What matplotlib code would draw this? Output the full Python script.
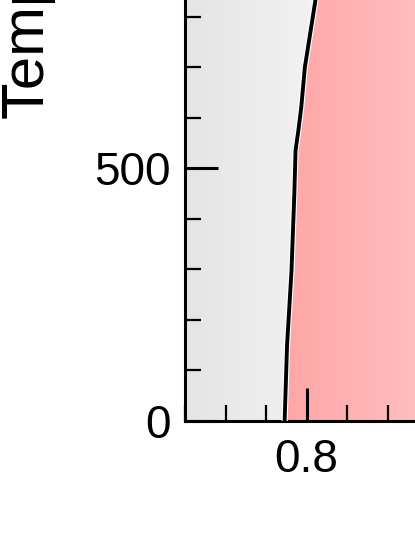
import numpy as np
import matplotlib
matplotlib.use('Agg')
import matplotlib.pyplot as plt
from matplotlib.ticker import MultipleLocator, FixedLocator
from matplotlib.path import Path
from matplotlib.patches import PathPatch
import matplotlib.patheffects as pe
from matplotlib.colors import LinearSegmentedColormap

plt.rcParams['font.family'] = ['Liberation Sans', 'DejaVu Sans']

# ── phase boundary
bound_x = [0.746, 0.752, 0.763, 0.770, 0.773, 0.780, 0.787, 0.796, 0.822, 0.840]
bound_T = [0, 150, 298, 450, 536, 575, 620, 700, 832, 900]

x_major = [0.8]
x_labels = ['0.8']
y_major = [0, 500]
y_labels = ['0', '500']
xlim = (0.5, 1.3)
ylim = (0, 900)

fig = plt.figure(figsize=(4.15, 5.37), dpi=100)
ax = fig.add_axes([185 / 415, 116 / 537, 324 / 415, 455 / 537])
ax.set_xlim(*xlim)
ax.set_ylim(*ylim)

# gray background gradient
gray = LinearSegmentedColormap.from_list('g', ['#e4e4e4', '#f1f1f1'])
grad = np.linspace(0, 1, 256).reshape(1, -1)
ax.imshow(grad, cmap=gray, extent=[xlim[0], 0.80, ylim[0], ylim[1]],
          aspect='auto', zorder=0)
ax.imshow(np.ones((1, 2)), cmap=LinearSegmentedColormap.from_list('g2', ['#f1f1f1', '#f1f1f1']),
          extent=[0.80, xlim[1], ylim[0], ylim[1]], aspect='auto', zorder=0)

# pink region right of the boundary
pink = LinearSegmentedColormap.from_list('p', ['#ffa6a6', '#ffbcbc'])
ax.imshow(grad, cmap=pink, extent=[0.74, 1.05, ylim[0], ylim[1]],
          aspect='auto', zorder=1)
ax.imshow(np.ones((1, 2)), cmap=LinearSegmentedColormap.from_list('p2', ['#ffbcbc', '#ffbcbc']),
          extent=[1.05, xlim[1], ylim[0], ylim[1]], aspect='auto', zorder=1)
verts = list(zip(bound_x, bound_T)) + [(xlim[1], ylim[1]), (xlim[1], ylim[0])]
clip = PathPatch(Path(verts + [verts[0]]), transform=ax.transData, facecolor='none', edgecolor='none')
ax.add_patch(clip)
for art in ax.images[2:]:
    art.set_clip_path(clip)

ax.plot(bound_x, bound_T, color='black', lw=2.8, zorder=3,
        path_effects=[pe.Stroke(linewidth=4.4, foreground='white'), pe.Normal()])

# y label: only its start is inside the picture
fig.text(1 / 415, 1 - 119 / 537, 'Temperature (K)', fontsize=43,
         rotation=90, ha='left', va='bottom')

ax.xaxis.set_major_locator(FixedLocator(x_major))
ax.xaxis.set_minor_locator(MultipleLocator(0.1))
ax.yaxis.set_major_locator(FixedLocator(y_major))
ax.yaxis.set_minor_locator(MultipleLocator(100))
ax.set_xticklabels(x_labels)
ax.set_yticklabels(y_labels)

ax.tick_params(which='major', direction='in', length=24, width=2.2,
               labelsize=33, pad=10)
ax.tick_params(which='minor', direction='in', length=11.5, width=1.6)
ax.tick_params(axis='x', which='major', pad=12)

for s in ['left', 'bottom']:
    ax.spines[s].set_linewidth(2.2)
ax.spines['top'].set_visible(False)
ax.spines['right'].set_visible(False)

fig.savefig('out.png', dpi=100)
